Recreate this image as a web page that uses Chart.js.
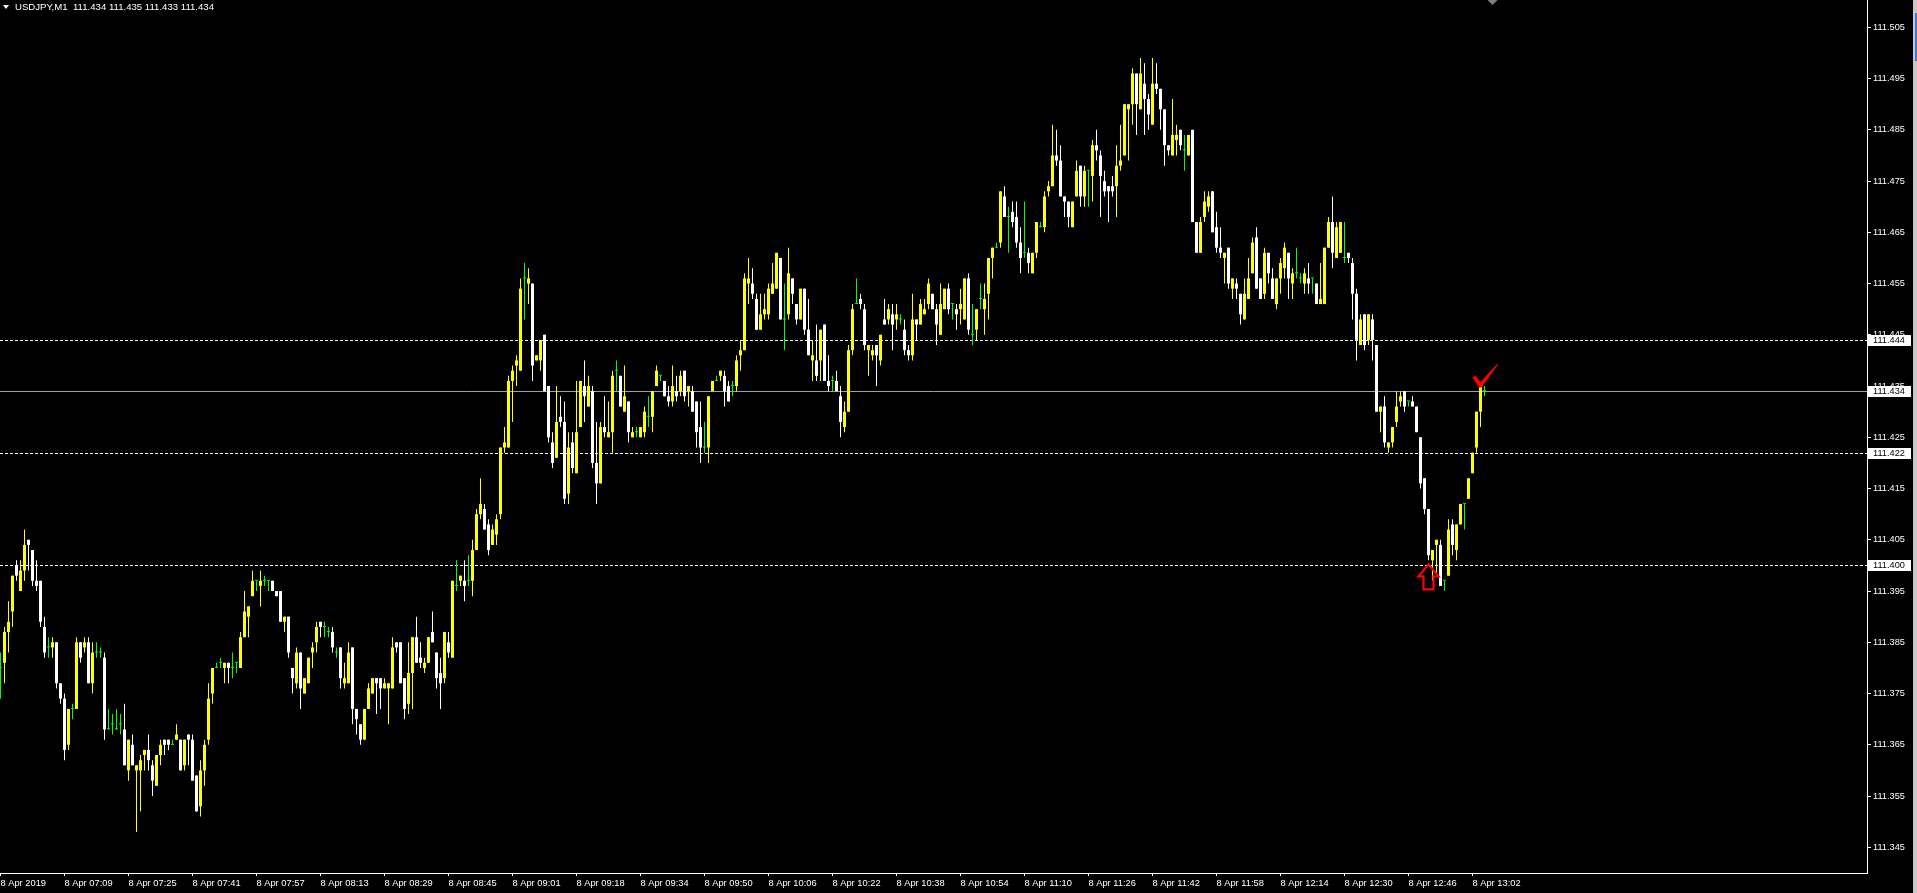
<!DOCTYPE html>
<html><head><meta charset="utf-8">
<script src="https://cdn.jsdelivr.net/npm/chart.js@4.4.1/dist/chart.umd.min.js"></script>
<style>html,body{margin:0;padding:0;background:#000;overflow:hidden}canvas{display:block}</style>
</head><body>
<canvas id="c" width="1917" height="893"></canvas>
<script>
const symbolTitle = 'USDJPY,M1';
const lastQuote = ['111.434', '111.435', '111.433', '111.434'];
const timeLabels = ['8 Apr 2019','8 Apr 07:09','8 Apr 07:25','8 Apr 07:41','8 Apr 07:57','8 Apr 08:13','8 Apr 08:29','8 Apr 08:45','8 Apr 09:01','8 Apr 09:18','8 Apr 09:34','8 Apr 09:50','8 Apr 10:06','8 Apr 10:22','8 Apr 10:38','8 Apr 10:54','8 Apr 11:10','8 Apr 11:26','8 Apr 11:42','8 Apr 11:58','8 Apr 12:14','8 Apr 12:30','8 Apr 12:46','8 Apr 13:02'];
const barsPerLabel = 16;
const priceTicks = [111.345,111.355,111.365,111.375,111.385,111.395,111.405,111.415,111.425,111.435,111.445,111.455,111.465,111.475,111.485,111.495,111.505];
const dashedLevels = [111.444, 111.422, 111.400];
const bidLevel = 111.434;
const arrowMark = {bar: 357, price: 111.4002};
const checkMark = {bar: 369.9, price: 111.4348};

const open = [
111.380,111.381,111.387,111.391,111.400,111.395,111.399,111.405,111.403,111.397,
111.397,111.388,111.384,111.384,111.385,111.377,111.374,111.365,111.372,111.372,
111.385,111.384,111.385,111.377,111.383,111.383,111.382,111.368,111.369,111.368,
111.369,111.368,111.360,111.365,111.360,111.360,111.363,111.364,111.361,111.357,
111.363,111.366,111.366,111.365,111.366,111.366,111.361,111.367,111.366,111.359,
111.353,111.360,111.366,111.375,111.380,111.381,111.380,111.381,111.380,111.381,
111.380,111.386,111.390,111.394,111.397,111.396,111.397,111.397,111.397,111.395,
111.395,111.389,111.390,111.380,111.377,111.383,111.375,111.377,111.383,111.385,
111.389,111.388,111.387,111.387,111.383,111.384,111.377,111.377,111.384,111.372,
111.369,111.366,111.372,111.375,111.378,111.378,111.376,111.376,111.376,111.385,
111.385,111.378,111.373,111.379,111.386,111.382,111.380,111.381,111.387,111.383,
111.379,111.378,111.385,111.382,111.396,111.397,111.397,111.397,111.397,111.403,
111.410,111.411,111.408,111.404,111.406,111.410,111.423,111.423,111.436,111.439,
111.438,111.456,111.455,111.455,111.440,111.440,111.445,111.435,111.424,111.421,
111.429,111.428,111.414,111.424,111.418,111.427,111.435,111.431,111.434,111.420,
111.416,111.427,111.425,111.426,111.438,111.437,111.430,111.432,111.425,111.426,
111.425,111.426,111.429,111.429,111.435,111.437,111.436,111.433,111.432,111.434,
111.434,111.438,111.434,111.434,111.432,111.427,111.423,111.423,111.434,111.436,
111.437,111.437,111.435,111.435,111.435,111.441,111.442,111.455,111.455,111.452,
111.446,111.449,111.449,111.453,111.454,111.460,111.448,111.449,111.456,111.451,
111.448,111.454,111.446,111.440,111.440,111.440,111.447,111.436,111.436,111.436,
111.433,111.427,111.430,111.442,111.451,111.452,111.450,111.442,111.441,111.443,
111.440,111.448,111.448,111.449,111.448,111.448,111.446,111.442,111.441,111.448,
111.447,111.449,111.451,111.453,111.450,111.445,111.450,111.454,111.451,111.450,
111.450,111.448,111.456,111.445,111.446,111.452,111.450,111.453,111.460,111.462,
111.463,111.472,111.468,111.469,111.468,111.463,111.461,111.461,111.457,111.461,
111.466,111.466,111.473,111.474,111.480,111.479,111.472,111.471,111.466,111.472,
111.478,111.472,111.477,111.476,111.482,111.480,111.475,111.474,111.474,111.474,
111.478,111.480,111.489,111.490,111.496,111.489,111.494,111.491,111.486,111.494,
111.493,111.489,111.482,111.480,111.483,111.485,111.481,111.480,111.485,111.467,
111.461,111.468,111.470,111.473,111.466,111.462,111.460,111.462,111.454,111.455,
111.453,111.448,111.452,111.457,111.464,111.456,111.453,111.461,111.456,111.451,
111.456,111.458,111.461,111.455,111.457,111.456,111.455,111.456,111.456,111.455,
111.451,111.451,111.462,111.467,111.460,111.461,111.460,111.461,111.459,111.453,
111.443,111.449,111.444,111.448,111.443,111.430,111.431,111.423,111.424,111.428,
111.432,111.434,111.432,111.432,111.431,111.425,111.417,111.411,111.401,111.404,
111.404,111.397,111.398,111.408,111.403,111.408,111.412,111.413,111.418,111.423,
111.430,111.434];
const high = [
111.383,111.388,111.393,111.398,111.401,111.401,111.407,111.405,111.403,111.401,
111.397,111.390,111.386,111.386,111.385,111.377,111.375,111.372,111.373,111.386,
111.385,111.386,111.386,111.385,111.385,111.384,111.383,111.372,111.371,111.372,
111.371,111.373,111.366,111.367,111.361,111.363,111.364,111.367,111.362,111.363,
111.366,111.366,111.366,111.366,111.369,111.366,111.366,111.367,111.367,111.359,
111.362,111.366,111.377,111.380,111.381,111.382,111.381,111.381,111.383,111.381,
111.387,111.395,111.392,111.399,111.397,111.399,111.398,111.397,111.397,111.395,
111.395,111.390,111.390,111.380,111.384,111.383,111.378,111.382,111.385,111.389,
111.389,111.389,111.388,111.388,111.384,111.384,111.381,111.385,111.384,111.372,
111.369,111.372,111.377,111.378,111.378,111.378,111.378,111.377,111.386,111.385,
111.385,111.378,111.385,111.386,111.390,111.385,111.382,111.386,111.391,111.383,
111.382,111.387,111.387,111.397,111.401,111.398,111.401,111.402,111.405,111.411,
111.417,111.412,111.409,111.408,111.410,111.423,111.427,111.437,111.439,111.441,
111.456,111.459,111.458,111.455,111.441,111.444,111.445,111.435,111.426,111.435,
111.433,111.432,111.426,111.426,111.436,111.436,111.440,111.437,111.435,111.428,
111.428,111.433,111.432,111.438,111.440,111.437,111.439,111.432,111.427,111.427,
111.427,111.431,111.433,111.434,111.439,111.437,111.436,111.435,111.439,111.437,
111.438,111.438,111.435,111.435,111.432,111.432,111.428,111.433,111.436,111.437,
111.438,111.438,111.436,111.436,111.441,111.444,111.457,111.460,111.458,111.453,
111.453,111.453,111.455,111.459,111.461,111.460,111.455,111.462,111.456,111.451,
111.454,111.454,111.452,111.444,111.447,111.446,111.447,111.441,111.437,111.438,
111.435,111.432,111.443,111.451,111.456,111.453,111.451,111.443,111.443,111.443,
111.445,111.452,111.451,111.451,111.451,111.449,111.448,111.443,111.453,111.448,
111.452,111.452,111.456,111.453,111.451,111.455,111.454,111.455,111.451,111.451,
111.454,111.456,111.457,111.451,111.450,111.455,111.455,111.460,111.462,111.463,
111.473,111.474,111.470,111.471,111.471,111.466,111.471,111.462,111.461,111.467,
111.467,111.473,111.475,111.486,111.485,111.482,111.472,111.471,111.471,111.479,
111.478,111.478,111.477,111.483,111.485,111.481,111.477,111.474,111.476,111.482,
111.486,111.490,111.490,111.497,111.496,111.499,111.498,111.492,111.499,111.498,
111.493,111.489,111.482,111.491,111.486,111.485,111.484,111.484,111.485,111.467,
111.468,111.473,111.473,111.473,111.469,111.466,111.461,111.462,111.456,111.456,
111.453,111.456,111.460,111.464,111.466,111.456,111.462,111.461,111.458,111.456,
111.460,111.463,111.461,111.458,111.462,111.457,111.458,111.459,111.456,111.455,
111.459,111.462,111.468,111.472,111.467,111.467,111.467,111.461,111.460,111.454,
111.449,111.449,111.449,111.449,111.443,111.431,111.433,111.424,111.427,111.434,
111.434,111.434,111.432,111.433,111.431,111.425,111.417,111.411,111.403,111.405,
111.405,111.397,111.409,111.409,111.408,111.412,111.412,111.417,111.422,111.430,
111.435,111.435];
const low = [
111.374,111.377,111.383,111.388,111.397,111.395,111.397,111.399,111.396,111.395,
111.388,111.382,111.382,111.382,111.376,111.373,111.362,111.364,111.370,111.372,
111.381,111.383,111.377,111.375,111.382,111.382,111.366,111.368,111.367,111.368,
111.367,111.361,111.358,111.361,111.348,111.352,111.360,111.360,111.355,111.357,
111.361,111.363,111.364,111.365,111.366,111.360,111.360,111.361,111.358,111.352,
111.351,111.357,111.365,111.373,111.380,111.380,111.377,111.377,111.378,111.379,
111.380,111.386,111.386,111.394,111.395,111.392,111.396,111.395,111.395,111.394,
111.389,111.387,111.382,111.375,111.376,111.372,111.375,111.377,111.380,111.383,
111.386,111.386,111.386,111.383,111.382,111.376,111.376,111.377,111.369,111.367,
111.365,111.366,111.372,111.375,111.371,111.372,111.376,111.369,111.376,111.383,
111.377,111.370,111.371,111.372,111.381,111.380,111.379,111.381,111.385,111.376,
111.372,111.377,111.382,111.382,111.395,111.396,111.393,111.396,111.394,111.403,
111.409,111.407,111.402,111.404,111.404,111.409,111.422,111.423,111.428,111.435,
111.438,111.448,111.451,111.436,111.440,111.438,111.434,111.424,111.419,111.421,
111.427,111.412,111.412,111.418,111.418,111.427,111.428,111.431,111.419,111.412,
111.416,111.425,111.425,111.422,111.434,111.431,111.430,111.424,111.425,111.425,
111.425,111.425,111.427,111.426,111.435,111.436,111.433,111.431,111.431,111.432,
111.433,111.432,111.431,111.430,111.423,111.420,111.422,111.420,111.434,111.436,
111.436,111.431,111.432,111.433,111.434,111.438,111.442,111.451,111.452,111.446,
111.446,111.448,111.448,111.453,111.454,111.448,111.442,111.448,111.451,111.447,
111.448,111.445,111.441,111.436,111.436,111.436,111.436,111.434,111.434,111.434,
111.425,111.426,111.430,111.441,111.451,111.450,111.442,111.437,111.440,111.435,
111.439,111.447,111.447,111.442,111.446,111.447,111.441,111.440,111.440,111.444,
111.447,111.449,111.450,111.450,111.443,111.445,111.450,111.449,111.448,111.446,
111.447,111.448,111.445,111.443,111.444,111.450,111.445,111.448,111.456,111.462,
111.462,111.468,111.461,111.466,111.462,111.457,111.460,111.457,111.457,111.460,
111.466,111.465,111.472,111.474,111.478,111.472,111.468,111.466,111.466,111.472,
111.470,111.470,111.470,111.471,111.479,111.468,111.472,111.467,111.472,111.468,
111.477,111.480,111.479,111.486,111.484,111.489,111.484,111.485,111.486,111.492,
111.485,111.478,111.480,111.480,111.480,111.481,111.477,111.480,111.467,111.461,
111.461,111.467,111.469,111.465,111.461,111.460,111.455,111.454,111.452,111.452,
111.447,111.448,111.452,111.457,111.454,111.452,111.452,111.455,111.452,111.450,
111.453,111.456,111.452,111.452,111.456,111.455,111.453,111.453,111.453,111.451,
111.451,111.451,111.462,111.458,111.460,111.461,111.459,111.459,111.448,111.440,
111.443,111.442,111.443,111.440,111.430,111.426,111.423,111.422,111.423,111.427,
111.431,111.430,111.431,111.431,111.426,111.415,111.410,111.401,111.397,111.398,
111.396,111.395,111.398,111.402,111.401,111.408,111.407,111.413,111.418,111.422,
111.427,111.433];
const close = [
111.380,111.387,111.389,111.398,111.398,111.399,111.404,111.404,111.397,111.396,
111.389,111.383,111.384,111.385,111.377,111.374,111.364,111.372,111.372,111.385,
111.382,111.385,111.377,111.383,111.383,111.383,111.368,111.368,111.369,111.368,
111.369,111.361,111.366,111.361,111.361,111.362,111.364,111.362,111.358,111.363,
111.365,111.365,111.365,111.365,111.367,111.360,111.366,111.366,111.358,111.352,
111.360,111.365,111.374,111.380,111.380,111.381,111.381,111.380,111.380,111.381,
111.386,111.391,111.392,111.397,111.397,111.397,111.397,111.397,111.395,111.394,
111.389,111.390,111.383,111.378,111.383,111.376,111.378,111.382,111.384,111.388,
111.388,111.388,111.387,111.384,111.383,111.378,111.378,111.383,111.372,111.370,
111.366,111.372,111.376,111.378,111.377,111.376,111.377,111.377,111.384,111.384,
111.377,111.372,111.379,111.386,111.381,111.381,111.381,111.386,111.385,111.378,
111.377,111.387,111.383,111.397,111.396,111.398,111.396,111.397,111.403,111.410,
111.412,111.407,111.403,111.407,111.409,111.423,111.424,111.436,111.438,111.440,
111.454,111.456,111.456,111.439,111.441,111.444,111.434,111.425,111.420,111.428,
111.428,111.413,111.423,111.419,111.426,111.436,111.433,111.435,111.420,111.416,
111.427,111.426,111.426,111.437,111.438,111.431,111.433,111.426,111.426,111.426,
111.427,111.430,111.429,111.434,111.438,111.437,111.433,111.432,111.435,111.433,
111.437,111.433,111.435,111.430,111.426,111.423,111.423,111.433,111.436,111.436,
111.438,111.434,111.432,111.435,111.440,111.442,111.456,111.456,111.453,111.446,
111.449,111.450,111.454,111.455,111.461,111.448,111.448,111.457,111.453,111.448,
111.454,111.446,111.441,111.441,111.437,111.446,111.436,111.435,111.436,111.434,
111.428,111.430,111.442,111.450,111.451,111.451,111.443,111.443,111.442,111.441,
111.445,111.447,111.450,111.447,111.449,111.448,111.442,111.441,111.448,111.447,
111.451,111.450,111.455,111.450,111.447,111.451,111.454,111.450,111.451,111.449,
111.451,111.456,111.446,111.445,111.450,111.452,111.452,111.460,111.462,111.462,
111.473,111.468,111.468,111.467,111.463,111.460,111.461,111.459,111.461,111.467,
111.466,111.472,111.474,111.480,111.479,111.472,111.471,111.468,111.471,111.477,
111.472,111.477,111.477,111.482,111.481,111.476,111.473,111.473,111.473,111.478,
111.479,111.490,111.490,111.496,111.490,111.496,111.491,111.488,111.494,111.493,
111.489,111.482,111.481,111.484,111.484,111.482,111.481,111.484,111.467,111.461,
111.467,111.471,111.472,111.465,111.462,111.461,111.461,111.455,111.456,111.454,
111.449,111.453,111.456,111.463,111.454,111.452,111.461,111.457,111.452,111.456,
111.459,111.462,111.456,111.457,111.457,111.456,111.457,111.455,111.456,111.451,
111.452,111.462,111.467,111.461,111.466,111.467,111.460,111.460,111.453,111.444,
111.448,111.443,111.449,111.444,111.430,111.431,111.424,111.424,111.427,111.431,
111.433,111.431,111.432,111.431,111.426,111.416,111.411,111.402,111.403,111.405,
111.396,111.397,111.407,111.404,111.408,111.412,111.412,111.417,111.422,111.430,
111.435,111.434];

const BULL = '#ffff00', BEAR = '#ffffff', DOJI = '#00ff00';
const barColor = open.map((o, i) => close[i] > o ? BULL : (close[i] < o ? BEAR : DOJI));
const bodyData = open.map((o, i) => ({x: i, y: [o, close[i]]}));
const wickData = open.map((o, i) => ({x: i, y: [low[i], high[i]]}));

const FONT = '"Liberation Sans", Arial, sans-serif';

const overlay = {
  id: 'overlay',
  beforeDraw(chart) {
    const c = chart.ctx;
    c.save(); c.fillStyle = '#000'; c.fillRect(0, 0, chart.width, chart.height); c.restore();
  },
  beforeDatasetsDraw(chart) {
    const {ctx, chartArea: a, scales: {y}} = chart;
    ctx.save();
    ctx.lineWidth = 1;
    ctx.strokeStyle = '#ffffff';
    ctx.setLineDash([3, 2]);
    dashedLevels.forEach(v => {
      const py = Math.round(y.getPixelForValue(v)) + 0.5;
      ctx.beginPath(); ctx.moveTo(a.left, py); ctx.lineTo(a.right, py); ctx.stroke();
    });
    ctx.setLineDash([]);
    ctx.strokeStyle = '#a0a0a0';
    const pb = Math.round(y.getPixelForValue(bidLevel)) + 0.5;
    ctx.beginPath(); ctx.moveTo(a.left, pb); ctx.lineTo(a.right, pb); ctx.stroke();
    ctx.restore();
  },
  afterDraw(chart) {
    const {ctx, chartArea: a, scales: {x, y}} = chart;
    ctx.save();
    ctx.font = '9.2px ' + FONT;
    ctx.textBaseline = 'middle';
    ctx.textAlign = 'left';
    dashedLevels.concat([bidLevel]).forEach(v => {
      const py = Math.round(y.getPixelForValue(v));
      ctx.fillStyle = '#ffffff';
      ctx.fillRect(a.right + 1, py - 5, 43, 11);
      ctx.fillStyle = '#000000';
      ctx.fillText(v.toFixed(3), a.right + 6, py + 0.5);
    });
    ctx.fillStyle = '#ffffff';
    ctx.beginPath(); ctx.moveTo(3, 5); ctx.lineTo(9, 5); ctx.lineTo(6, 9); ctx.closePath(); ctx.fill();
    ctx.font = '9.6px ' + FONT;
    ctx.fillText(symbolTitle, 15, 7.5);
    ctx.fillText(lastQuote.join(' '), 73, 7.5);
    ctx.fillStyle = '#808080';
    const sx = x.getPixelForValue(open.length + 1);
    ctx.beginPath(); ctx.moveTo(sx - 5, 0); ctx.lineTo(sx + 5, 0); ctx.lineTo(sx, 5); ctx.closePath(); ctx.fill();
    ctx.fillStyle = '#c8c8c8';
    ctx.fillRect(chart.width - 4, 0, 4, chart.height);
    ctx.fillStyle = '#3a78d8';
    ctx.fillRect(chart.width - 2, 13, 2, 48);
    const tx = x.getPixelForValue(arrowMark.bar), ty = y.getPixelForValue(arrowMark.price);
    ctx.strokeStyle = '#ff0000';
    ctx.lineWidth = 2.2;
    ctx.lineJoin = 'miter';
    ctx.beginPath();
    ctx.moveTo(tx, ty);
    ctx.lineTo(tx + 10, ty + 12);
    ctx.lineTo(tx + 5, ty + 12);
    ctx.lineTo(tx + 5, ty + 25);
    ctx.lineTo(tx - 5, ty + 25);
    ctx.lineTo(tx - 5, ty + 12);
    ctx.lineTo(tx - 10, ty + 12);
    ctx.closePath();
    ctx.stroke();
    const bx = x.getPixelForValue(checkMark.bar), by = y.getPixelForValue(checkMark.price);
    ctx.fillStyle = '#ff0000';
    ctx.beginPath();
    ctx.moveTo(bx - 8, by - 10);
    ctx.lineTo(bx - 4.5, by - 11);
    ctx.lineTo(bx + 0.5, by - 5);
    ctx.lineTo(bx + 17, by - 23);
    ctx.lineTo(bx + 18, by - 22.5);
    ctx.lineTo(bx + 1.5, by + 0.5);
    ctx.lineTo(bx - 1, by + 0.5);
    ctx.closePath();
    ctx.fill();
    ctx.restore();
  }
};

new Chart(document.getElementById('c'), {
  type: 'bar',
  data: {
    datasets: [
      {label: 'body', data: bodyData, backgroundColor: barColor, barThickness: 3, minBarLength: 1, grouped: false, borderWidth: 0, inflateAmount: 0},
      {label: 'wick', data: wickData, backgroundColor: barColor, barThickness: 1, minBarLength: 1, grouped: false, borderWidth: 0, inflateAmount: 0}
    ]
  },
  options: {
    responsive: false,
    animation: false,
    devicePixelRatio: 1,
    layout: {padding: 0},
    plugins: {legend: {display: false}, tooltip: {enabled: false}},
    scales: {
      x: {
        type: 'linear',
        offset: false,
        min: -0.125,
        max: 466.625,
        grid: {display: true, drawOnChartArea: false, drawTicks: true, tickLength: 3, color: '#ffffff', offset: false},
        border: {display: true, color: '#ffffff', width: 1},
        afterBuildTicks: s => { s.ticks = timeLabels.map((t, k) => ({value: k * barsPerLabel})); },
        afterFit: s => { s.height = 20; s.paddingLeft = 0; s.paddingRight = 0; },
        ticks: {
          autoSkip: false, maxRotation: 0, minRotation: 0, align: 'start', padding: 2,
          color: '#ffffff', font: {family: FONT, size: 9.3},
          callback: (v, i) => timeLabels[i]
        }
      },
      y: {
        type: 'linear',
        position: 'right',
        beginAtZero: false,
        min: 111.33998,
        max: 111.51033,
        grid: {display: true, drawOnChartArea: false, drawTicks: true, tickLength: 4, color: '#ffffff'},
        border: {display: true, color: '#ffffff', width: 1},
        afterBuildTicks: s => { s.ticks = priceTicks.map(v => ({value: v})); },
        afterFit: s => { s.width = 50; s.paddingTop = 0; s.paddingBottom = 0; },
        ticks: {
          padding: 2, color: '#ffffff', font: {family: FONT, size: 9.2},
          callback: v => Number(v).toFixed(3)
        }
      }
    }
  },
  plugins: [overlay]
});
</script>
</body></html>
